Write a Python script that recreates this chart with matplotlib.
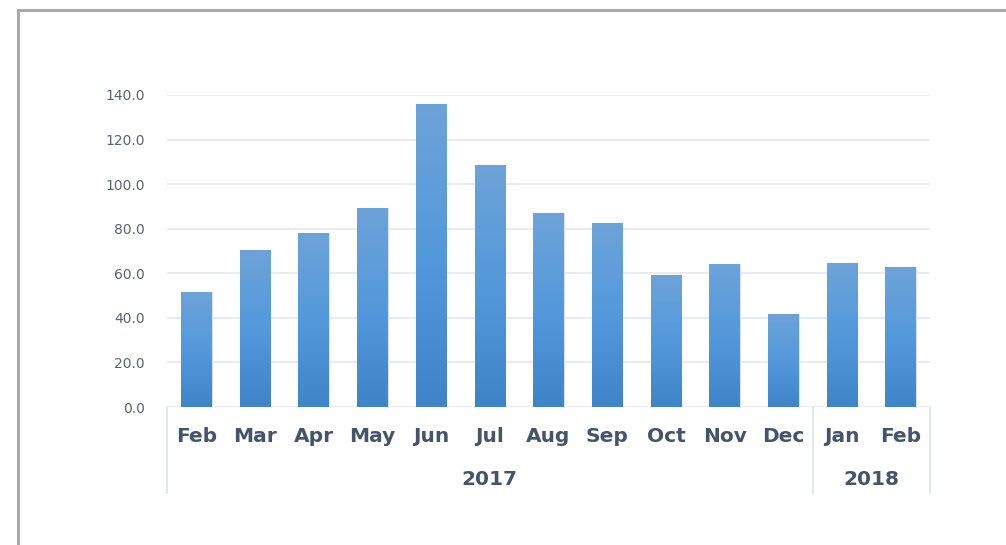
import numpy as np
import matplotlib.pyplot as plt
from matplotlib.patches import Rectangle
from matplotlib.colors import LinearSegmentedColormap

# monthly values, Feb 2017 .. Feb 2018
months = ["Feb", "Mar", "Apr", "May", "Jun", "Jul", "Aug", "Sep", "Oct", "Nov", "Dec", "Jan", "Feb"]
values = [51.6, 70.4, 78.1, 89.3, 135.9, 108.6, 87.0, 82.5, 59.2, 64.2, 41.7, 64.6, 62.8]
years = ["2017", "2018"]
year_counts = [11, 2]
yticks = [0, 20, 40, 60, 80, 100, 120, 140]

plt.rcParams['font.family'] = ['DejaVu Sans']
text_col = "#44546A"

fig = plt.figure(figsize=(10.06, 5.45), dpi=100)
ax = fig.add_axes([0.166, 0.2532, 0.7585, 0.5725])

# outer gray frame (runs off the right and bottom edge)
fig.patches.append(Rectangle((18 / 1006, -0.1), 1.2, 1 - 10 / 545 + 0.1,
                             transform=fig.transFigure, fill=False,
                             edgecolor="#A9A9A9", linewidth=2.2))

x = np.arange(len(months))
bars = ax.bar(x, values, width=0.52, color="#5499DA", edgecolor="#D6E4F4",
              linewidth=0.8, zorder=3)

# vertical gradient fill for each bar
cmap = LinearSegmentedColormap.from_list("bar", ["#3E84C6", "#5399DB", "#6DA3D8"])
grad = np.linspace(0, 1, 256).reshape(-1, 1)
for b in bars:
    x0, w, h = b.get_x(), b.get_width(), b.get_height()
    im = ax.imshow(grad, cmap=cmap, origin="lower", aspect="auto",
                   extent=[x0, x0 + w, 0, h], zorder=3.5)
    im.set_clip_path(b)

ax.set_xlim(-0.5, len(months) - 0.5)
ax.set_ylim(0, 140)
ax.set_yticks(yticks)
ax.set_yticklabels([f"{v:.1f}" for v in yticks], fontsize=10, color="#5A6272")
ax.tick_params(axis="y", length=0, pad=16)
ax.grid(axis="y", color="#E4E9F0", linewidth=1.2, zorder=0)
for s in ax.spines.values():
    s.set_visible(False)

ax.set_xticks([])
trans = ax.get_xaxis_transform()
for i, m in enumerate(months):
    ax.text(i, -0.096, m, transform=trans, ha="center", va="center",
            fontsize=14.5, fontweight="bold", color=text_col)

# category group separators and year labels
edges = np.concatenate([[0], np.cumsum(year_counts)]) - 0.5
for e in edges:
    ax.plot([e, e], [0, -0.276], transform=trans, color="#DCE3EC",
            linewidth=1.2, clip_on=False)
for k, yr in enumerate(years):
    ax.text((edges[k] + edges[k + 1]) / 2, -0.231, yr, transform=trans,
            ha="center", va="center", fontsize=14.5, fontweight="bold", color=text_col)

fig.savefig("out.png", dpi=100)
